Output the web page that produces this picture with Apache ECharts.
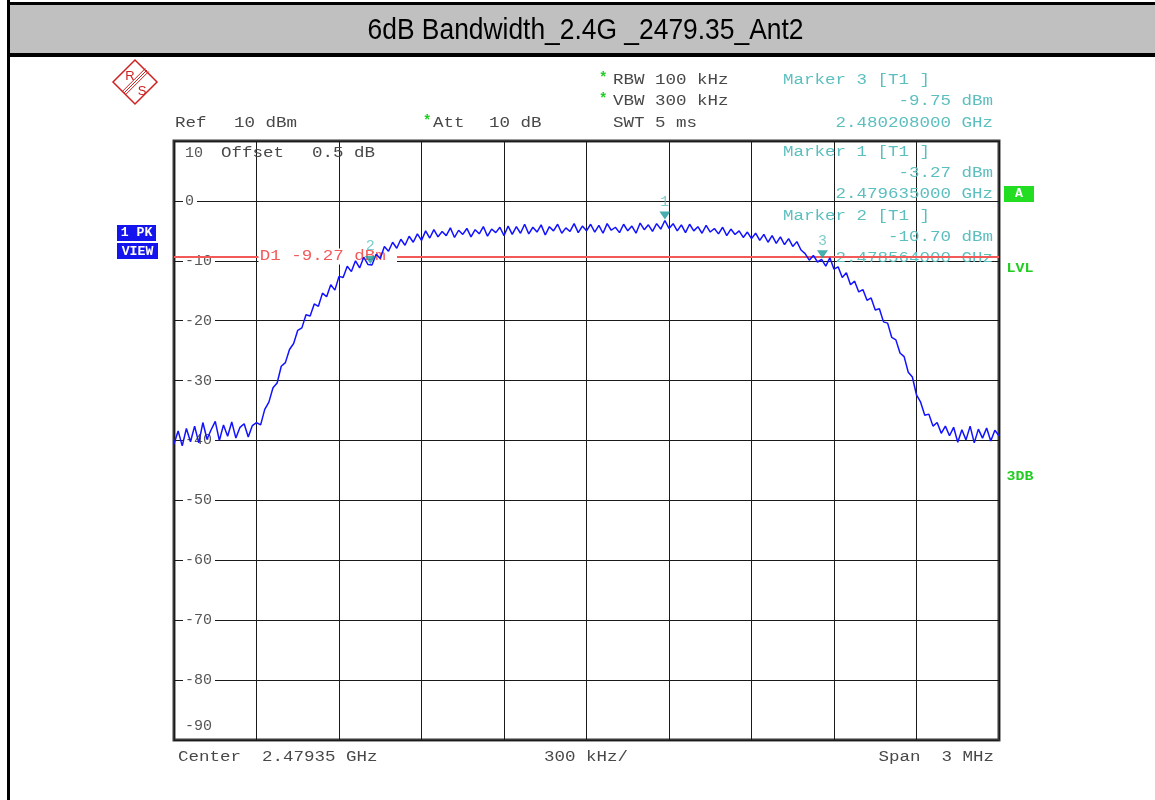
<!DOCTYPE html>
<html>
<head>
<meta charset="utf-8">
<script src="https://cdn.jsdelivr.net/npm/echarts@6/dist/echarts.min.js"></script>
<style>
html,body{margin:0;padding:0;background:#fff;}
#chart{width:1155px;height:800px;}
</style>
</head>
<body>
<div id="chart"></div>
<script>
// ---- Data ----
const titleText = '6dB Bandwidth_2.4G _2479.35_Ant2';
// sweep: offset from centre frequency (kHz), first point and step
const sweepStartKHz = -1500;
const sweepStepKHz = 15;
// trace level (dBm) for each sweep point
const traceLevels = [
  -40.6, -38.4, -40.9, -38.0, -40.2, -37.6, -40.4, -37.0, -39.8, -38.2,
  -36.8, -40.0, -37.4, -39.3, -36.9, -39.6, -37.8, -37.2, -39.4, -37.5,
  -37.0,
  -37.4, -34.8, -33.6, -31.2, -30.4, -27.6, -27.0, -24.8, -23.8, -21.6,
  -21.2, -19.0, -19.2, -17.2, -17.6, -15.4, -16.0, -14.0, -14.9, -12.6,
  -12.8, -10.9, -11.8, -10.0, -11.2, -9.4, -10.6, -10.70, -8.9, -9.6,
  -7.6, -8.4, -6.9, -7.9, -6.4, -7.4, -5.9, -6.9, -5.5, -6.6,
  -5.0, -6.2, -4.8, -6.0, -5.1, -5.8, -4.5, -6.1, -4.9, -5.6,
  -4.6, -6.0, -4.8, -5.5, -4.3, -5.9, -4.7, -5.3, -4.4, -5.8,
  -4.2, -5.6, -4.3, -5.4, -3.9, -5.5, -4.4, -5.2, -4.0, -5.7,
  -4.3, -5.0, -3.9, -5.4, -4.5, -5.1, -3.8, -5.3, -4.2, -5.0,
  -3.9, -5.2, -4.1, -5.4, -3.8, -4.9, -4.4, -5.3, -3.9, -5.0,
  -4.2, -5.4, -3.7, -4.8, -4.0, -5.1, -3.8, -4.7,
  -3.27,
  -4.6, -3.8, -5.0, -4.0, -5.3, -3.9, -5.0, -4.3, -5.4, -4.1,
  -5.2, -4.6, -5.5, -4.4, -5.8, -4.7, -5.6, -5.0, -6.1, -5.2, -6.3,
  -5.4, -6.6, -5.6, -6.9, -5.8, -7.1, -6.0, -7.3, -6.3, -7.6,
  -6.8, -8.2, -8.8, -9.9, -9.1, -10.2,
  -9.75, -10.9, -9.5, -11.4, -11.0, -12.8, -12.0, -14.0, -13.4, -15.2,
  -14.8, -16.6, -16.2, -18.2, -18.0, -20.2, -20.4, -22.8, -23.2, -25.4,
  -26.0, -28.6, -29.4, -32.4, -33.6, -35.8, -35.6, -37.6, -37.0, -38.8,
  -37.6,
  -39.2, -37.8, -40.3, -38.2, -39.9, -37.6, -40.4, -38.1, -39.6, -37.9,
  -40.1, -38.3, -39.2
];
// markers
const markerNames = ['1', '2', '3'];
const markerOffsetKHz = [285, -786, 858];
const markerLevels = [-3.27, -10.70, -9.75];
const markerFreqText = ['2.479635000 GHz', '2.478564000 GHz', '2.480208000 GHz'];
// display line D1
const d1Level = -9.27;
// axes
const xMinKHz = -1500, xMaxKHz = 1500, xStepKHz = 300;
const yMin = -90, yMax = 10, yStep = 10;

// ---- Build ----
const traceData = traceLevels.map((v, i) => [sweepStartKHz + i * sweepStepKHz, v]);
const markerData = markerNames.map((n, i) => [markerOffsetKHz[i], markerLevels[i], n]);

const MONO = '"Liberation Mono", "Courier New", monospace';
const GRAY = '#484848';
const CYAN = '#5cbfbf';
const GREEN = '#22cc22';
const SX = 1.25;

const chart = echarts.init(document.getElementById('chart'), null, {renderer: 'canvas'});

const option = {
  animation: false,
  backgroundColor: '#ffffff',
  grid: {
    left: 174, top: 141, width: 825, height: 599,
    show: true, borderColor: '#3a3a3a', borderWidth: 3, backgroundColor: 'transparent'
  },
  xAxis: {
    type: 'value', min: xMinKHz, max: xMaxKHz, interval: xStepKHz,
    axisLine: {show: false}, axisTick: {show: false}, axisLabel: {show: false},
    splitLine: {show: true, lineStyle: {color: '#1a1a1a', width: 1}}
  },
  yAxis: [
    {
      type: 'value', min: yMin, max: yMax, interval: yStep, z: 0,
      axisLine: {show: false}, axisTick: {show: false}, axisLabel: {show: false},
      splitLine: {show: true, lineStyle: {color: '#1a1a1a', width: 1}}
    },
    {
      type: 'value', min: yMin, max: yMax, interval: yStep, z: 4, position: 'left',
      axisLine: {show: false}, axisTick: {show: false}, splitLine: {show: false},
      axisLabel: {
        show: true, inside: true, margin: 9,
        color: '#555555', fontFamily: MONO, fontSize: 15,
        formatter: function (v) {
          if (v === yMax) return '{t|' + v + '}';
          if (v === yMin) return '{b|' + v + '}';
          return '{n|' + v + '}';
        },
        rich: {
          n: {backgroundColor: '#ffffff', padding: [1, 3, 1, 2], color: '#555555', fontFamily: MONO, fontSize: 15},
          t: {padding: [24, 0, 0, 2], color: '#555555', fontFamily: MONO, fontSize: 15},
          b: {padding: [0, 0, 28, 2], color: '#555555', fontFamily: MONO, fontSize: 15}
        }
      }
    }
  ],
  series: [
    {
      name: 'D1', type: 'line', data: [], z: 5, silent: true,
      markLine: {
        silent: true, symbol: ['none', 'none'], animation: false,
        label: {show: false},
        lineStyle: {color: '#f25a5a', width: 2, type: 'solid'},
        data: [{yAxis: d1Level}]
      }
    },
    {
      name: 'Trace', type: 'line', data: traceData, z: 10,
      showSymbol: false, symbol: 'none', clip: true,
      lineStyle: {color: '#1212ff', width: 1.5}
    },
    {
      name: 'Markers', type: 'scatter', data: markerData, z: 11,
      symbol: 'triangle', symbolRotate: 180, symbolSize: [11, 8], symbolOffset: [0, -5],
      itemStyle: {color: '#1a9a9a'},
      label: {
        show: true, position: 'top', distance: 2,
        formatter: p => p.data[2],
        color: CYAN, fontFamily: MONO, fontSize: 15
      }
    }
  ]
};
chart.setOption(option);

function txt(x, y, text, o) {
  o = o || {};
  return {
    type: 'text', x: x, y: y, z: o.z != null ? o.z : 6,
    scaleX: o.sx != null ? o.sx : SX,
    style: {
      text: text, fill: o.fill || GRAY,
      font: o.font || ('14px ' + MONO),
      align: o.align || 'left', verticalAlign: 'middle',
      backgroundColor: o.bg, padding: o.pad
    }
  };
}

const d1Pos = chart.convertToPixel({gridIndex: 0}, [xMinKHz + xStepKHz, d1Level]);

const els = [
  // frame & title band
  {type: 'rect', shape: {x: 7, y: 2, width: 1148, height: 3}, style: {fill: '#000'}, z: 1},
  {type: 'rect', shape: {x: 10, y: 5, width: 1145, height: 48}, style: {fill: '#c0c0c0'}, z: 1},
  {type: 'rect', shape: {x: 7, y: 53, width: 1148, height: 4}, style: {fill: '#000'}, z: 1},
  {type: 'rect', shape: {x: 7, y: 0, width: 3, height: 800}, style: {fill: '#000'}, z: 1},
  {type: 'text', x: 585.5, y: 31, scaleX: 0.88, z: 2,
   style: {text: titleText, fill: '#000', font: '30px "Liberation Sans", Arial, sans-serif', align: 'center', verticalAlign: 'middle'}},
  // R&S logo
  {type: 'polygon', shape: {points: [[135, 60], [157, 82], [135, 104], [113, 82]]}, style: {fill: 'none', stroke: '#cc2222', lineWidth: 1.5}, z: 2},
  {type: 'line', shape: {x1: 145.4, y1: 68.4, x2: 122.4, y2: 91.4}, style: {stroke: '#cc2222', lineWidth: 1}, z: 2},
  {type: 'line', shape: {x1: 147, y1: 70, x2: 124, y2: 93}, style: {stroke: '#cc2222', lineWidth: 1}, z: 2},
  {type: 'line', shape: {x1: 148.6, y1: 71.6, x2: 125.6, y2: 94.6}, style: {stroke: '#cc2222', lineWidth: 1}, z: 2},
  {type: 'text', x: 130, y: 76, z: 2, style: {text: 'R', fill: '#cc2222', font: '13px "Liberation Sans", sans-serif', align: 'center', verticalAlign: 'middle'}},
  {type: 'text', x: 142, y: 91, z: 2, style: {text: 'S', fill: '#cc2222', font: '13px "Liberation Sans", sans-serif', align: 'center', verticalAlign: 'middle'}},
  // header settings
  txt(599, 78, '*', {fill: GREEN, font: 'bold 14px ' + MONO, sx: 1}),
  txt(613, 80, 'RBW 100 kHz'),
  txt(599, 99, '*', {fill: GREEN, font: 'bold 14px ' + MONO, sx: 1}),
  txt(613, 101, 'VBW 300 kHz'),
  txt(613, 123, 'SWT 5 ms'),
  txt(175, 123, 'Ref'),
  txt(234, 123, '10 dBm'),
  txt(423, 121, '*', {fill: GREEN, font: 'bold 14px ' + MONO, sx: 1}),
  txt(433, 123, 'Att'),
  txt(489, 123, '10 dB'),
  txt(221, 153, 'Offset', {z: 3}),
  txt(312, 153, '0.5 dB', {z: 3}),
  // marker readouts
  txt(783, 80, 'Marker 3 [T1 ]', {fill: CYAN}),
  txt(993, 101, markerLevels[2].toFixed(2) + ' dBm', {fill: CYAN, align: 'right'}),
  txt(993, 123, markerFreqText[2], {fill: CYAN, align: 'right'}),
  txt(783, 152, 'Marker 1 [T1 ]', {fill: CYAN}),
  txt(993, 173, markerLevels[0].toFixed(2) + ' dBm', {fill: CYAN, align: 'right'}),
  txt(993, 194, markerFreqText[0], {fill: CYAN, align: 'right'}),
  txt(783, 216, 'Marker 2 [T1 ]', {fill: CYAN}),
  txt(993, 237, markerLevels[1].toFixed(2) + ' dBm', {fill: CYAN, align: 'right'}),
  txt(993, 258, markerFreqText[1], {fill: CYAN, align: 'right', z: 4}),
  // D1 label
  txt(d1Pos[0] + 2, d1Pos[1], 'D1 ' + d1Level.toFixed(2) + ' dBm', {fill: '#f25a5a', bg: '#ffffff', pad: [1, 9, 1, 1], z: 7}),
  // bottom annotations
  txt(178, 757, 'Center  2.47935 GHz'),
  txt(544, 757, '300 kHz/'),
  txt(994, 757, 'Span  3 MHz', {align: 'right'}),
  // left badges
  {type: 'rect', shape: {x: 117, y: 225, width: 39, height: 16}, style: {fill: '#1414ee'}, z: 2},
  {type: 'rect', shape: {x: 117, y: 243, width: 41, height: 16}, style: {fill: '#1414ee'}, z: 2},
  txt(136.5, 233, '1 PK', {fill: '#fff', font: 'bold 12px ' + MONO, sx: 1.1, align: 'center'}),
  txt(137.5, 251.5, 'VIEW', {fill: '#fff', font: 'bold 12px ' + MONO, sx: 1.1, align: 'center'}),
  // right indicators
  {type: 'rect', shape: {x: 1004, y: 186, width: 30, height: 16}, style: {fill: '#22dd22'}, z: 2},
  txt(1019, 194, 'A', {fill: '#fff', font: 'bold 12px ' + MONO, sx: 1.1, align: 'center'}),
  txt(1020, 269, 'LVL', {fill: GREEN, font: 'bold 13px ' + MONO, sx: 1.15, align: 'center'}),
  txt(1020, 477, '3DB', {fill: GREEN, font: 'bold 13px ' + MONO, sx: 1.15, align: 'center'})
];

chart.setOption({graphic: {elements: els}});
</script>
</body>
</html>
